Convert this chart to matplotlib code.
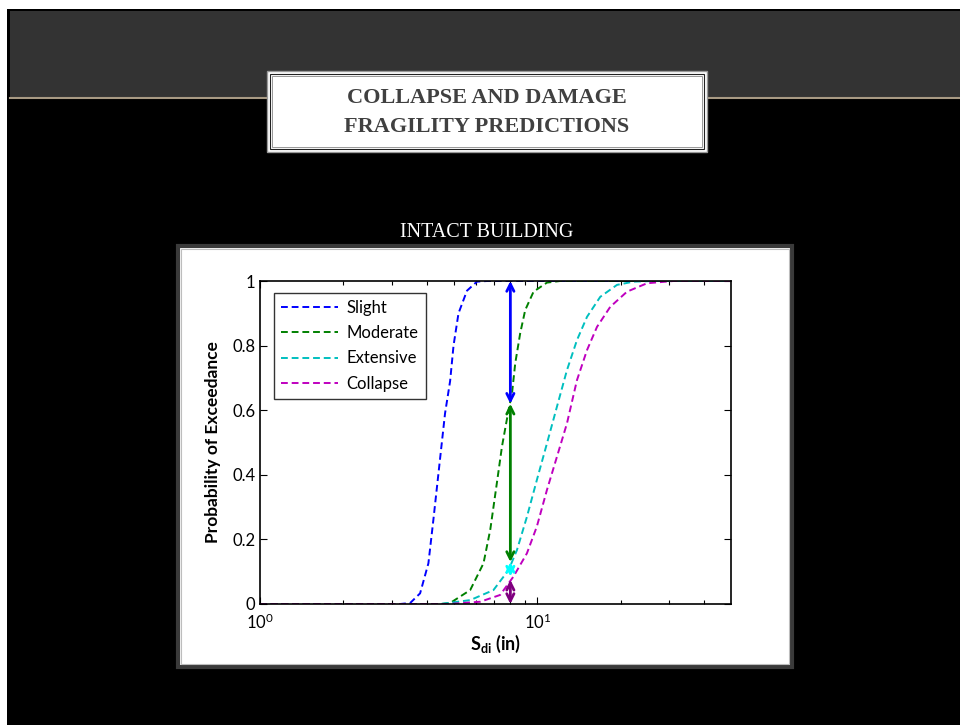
import numpy as np
import matplotlib
matplotlib.use("Agg")
from matplotlib import pyplot as plt
from matplotlib.patches import Rectangle

# values
slight_x = [1.0, 3.2, 3.48, 3.78, 4.05, 4.22, 4.47, 4.65, 4.85, 4.99, 5.20, 5.58, 6.06, 6.6, 50.0]
slight_p = [0.0, 0.0, 0.003, 0.033, 0.126, 0.26, 0.456, 0.59, 0.69, 0.80, 0.90, 0.97, 0.998, 1.0, 1.0]

moderate_x = [1.0, 4.5, 4.85, 5.73, 6.40, 6.77, 7.15, 7.46, 7.88, 8.11, 8.33, 8.68, 9.05, 9.70, 10.84, 12.1, 50.0]
moderate_p = [0.0, 0.0, 0.003, 0.043, 0.126, 0.23, 0.374, 0.487, 0.60, 0.652, 0.745, 0.838, 0.91, 0.967, 0.995, 1.0, 1.0]

extensive_x = [1.0, 4.47, 5.73, 6.95, 7.88, 8.45, 9.18, 9.97, 10.84, 11.78, 12.80, 13.91, 15.12, 16.88, 19.40, 22.27, 26.3, 50.0]
extensive_p = [0.0, 0.0, 0.012, 0.043, 0.105, 0.167, 0.27, 0.384, 0.497, 0.611, 0.724, 0.817, 0.889, 0.951, 0.988, 0.998, 1.0, 1.0]

collapse_x = [1.0, 4.8, 6.23, 7.35, 8.21, 9.18, 9.97, 10.84, 11.78, 12.80, 13.91, 15.12, 16.43, 18.34, 21.08, 24.9, 31.0, 50.0]
collapse_p = [0.0, 0.0, 0.007, 0.028, 0.085, 0.157, 0.24, 0.353, 0.456, 0.559, 0.693, 0.786, 0.858, 0.92, 0.967, 0.993, 1.0, 1.0]

labels = ["Slight", "Moderate", "Extensive", "Collapse"]
curve_colors = ["#0000ff", "#008000", "#00bfbf", "#bf00bf"]

# double arrows at Sdi = 8 in
arrow_x = 8.0
arrow_top = [1.0, 0.62, 0.13, 0.075]
arrow_bottom = [0.62, 0.13, 0.085, 0.0]
arrow_colors = ["#0000ff", "#008000", "#00ffff", "#7f007f"]

plt.rcParams["font.family"] = ["Lato", "DejaVu Sans"]
plt.rcParams["mathtext.fontset"] = "custom"
plt.rcParams["mathtext.rm"] = "Lato"
plt.rcParams["mathtext.bf"] = "Lato:bold"
plt.rcParams["mathtext.it"] = "Lato:italic"

fig = plt.figure(figsize=(9.6, 7.25), dpi=100)
fig.patch.set_facecolor("black")

# slide background, drawn in pixel coordinates
bg = fig.add_axes([0, 0, 1, 1])
bg.set_xlim(0, 960)
bg.set_ylim(725, 0)
bg.axis("off")
bg.add_patch(Rectangle((0, 0), 960, 9, fc="white", ec="none"))
bg.add_patch(Rectangle((0, 0), 7, 725, fc="white", ec="none"))
bg.add_patch(Rectangle((10, 11), 950, 86, fc="#333333", ec="none"))
bg.plot([10, 960], [98, 98], color="#a89a84", lw=1.5, zorder=2)

# title box
bg.add_patch(Rectangle((267, 71), 440, 81, fc="white", ec="#999999", lw=1, zorder=3))
bg.add_patch(Rectangle((270, 74), 434, 75, fill=False, ec="#222222", lw=0.8, zorder=3))
bg.add_patch(Rectangle((272, 76), 430, 71, fill=False, ec="#888888", lw=0.6, zorder=3))
bg.text(487, 98, "COLLAPSE AND DAMAGE", ha="center", va="center", fontsize=16,
        fontweight="bold", family="Liberation Serif", color="#404040", zorder=4)
bg.text(487, 127, "FRAGILITY PREDICTIONS", ha="center", va="center", fontsize=16,
        fontweight="bold", family="Liberation Serif", color="#404040", zorder=4)
bg.text(487, 232, "INTACT BUILDING", ha="center", va="center", fontsize=14.5,
        family="Liberation Serif", color="white")

# white panel holding the figure
bg.add_patch(Rectangle((178, 246), 614, 421, fc="white", ec="#3a3a3a", lw=3))
bg.add_patch(Rectangle((181, 249), 608, 415, fill=False, ec="#bdbdbd", lw=0.8))

ax = fig.add_axes([260 / 960, 1 - 604 / 725, (731 - 260) / 960, (604 - 281) / 725])
series = [(slight_x, slight_p), (moderate_x, moderate_p),
          (extensive_x, extensive_p), (collapse_x, collapse_p)]
for (xs, ps), lab, col in zip(series, labels, curve_colors):
  ax.plot(xs, ps, "--", color=col, lw=1.4, label=lab, dashes=(3.5, 2))

for top, bot, col in zip(arrow_top, arrow_bottom, arrow_colors):
  ax.annotate("", xy=(arrow_x, bot), xytext=(arrow_x, top),
              arrowprops=dict(arrowstyle="<->", color=col, lw=2,
                              shrinkA=0, shrinkB=0, mutation_scale=13))

ax.set_xscale("log")
ax.set_xlim(1, 50)
ax.set_ylim(0, 1)
ax.set_xticks([1, 10])
ax.set_xticks([2, 3, 4, 5, 6, 7, 8, 9, 20, 30, 40], minor=True)
ax.set_xticklabels([r"$10^{0}$", r"$10^{1}$"], minor=False)
ax.set_xticklabels([], minor=True)
ax.set_yticks([0, 0.2, 0.4, 0.6, 0.8, 1])
ax.set_yticklabels(["0", "0.2", "0.4", "0.6", "0.8", "1"])
ax.tick_params(which="both", direction="in", top=True, right=True, labelsize=12, colors="black")
ax.tick_params(which="major", length=5, width=0.8)
ax.tick_params(which="minor", length=3, width=0.8)
ax.tick_params(axis="x", which="major", pad=6)
for sp in ax.spines.values():
  sp.set_linewidth(1.2)

ax.set_xlabel(r"$\mathbf{S_{di}}$ (in)", fontsize=13, fontweight="bold", labelpad=1)
ax.set_ylabel("Probability of Exceedance", fontsize=12.5, fontweight="bold", labelpad=8)

leg = ax.legend(loc="upper left", bbox_to_anchor=(0.012, 0.99), fontsize=12,
                frameon=True, fancybox=False, edgecolor="black", handlelength=3.4,
                borderpad=0.45, labelspacing=0.55, handletextpad=0.5)
leg.get_frame().set_linewidth(1.0)

fig.savefig("out.png", dpi=100, facecolor=fig.get_facecolor())
